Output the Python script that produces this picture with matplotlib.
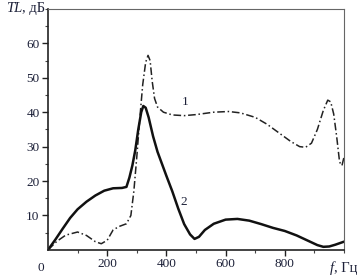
import matplotlib.pyplot as plt
from matplotlib.ticker import FixedLocator

plt.rcParams['font.family'] = ['Liberation Serif', 'DejaVu Serif']

# curve 1 (dash-dot)
f1 = [0, 30, 60, 100, 130, 160, 180, 200, 220, 240, 265, 280, 290, 300, 310,
      320, 330, 338, 345, 352, 360, 370, 390, 420, 460, 500, 560, 610, 650,
      700, 740, 780, 820, 850, 870, 890, 910, 930, 945, 955, 965, 975, 985,
      993, 1000]
tl1 = [0, 2.5, 4.3, 5.2, 4.2, 2.4, 1.8, 2.8, 5.8, 6.8, 7.6, 10, 17, 27, 38,
       48, 54.5, 56.5, 55, 49, 44, 41.5, 40, 39.2, 39, 39.3, 40, 40.2, 39.8,
       38.5, 36.5, 34, 31.5, 30, 29.8, 31, 35, 40.5, 43.5, 43, 39.5, 33, 25.5,
       24.5, 27]

# curve 2 (solid)
f2 = [0, 25, 50, 75, 100, 130, 160, 190, 220, 250, 265, 275, 285, 295, 305,
      315, 322, 330, 340, 355, 370, 385, 400, 420, 440, 460, 480, 495, 510,
      530, 560, 600, 640, 680, 720, 760, 800, 840, 880, 910, 930, 950, 970,
      1000]
tl2 = [0, 3, 6.2, 9.3, 11.8, 14, 15.8, 17.2, 17.9, 18, 18.3, 21, 24.5, 29,
       35, 40, 41.8, 41.3, 38.5, 33, 28.5, 25, 21.5, 17, 12, 7.5, 4.5, 3.2,
       3.8, 5.8, 7.6, 8.8, 9, 8.5, 7.5, 6.4, 5.5, 4.2, 2.6, 1.4, 0.9, 1, 1.5,
       2.4]

xticks = [200, 400, 600, 800]
yticks = [10, 20, 30, 40, 50, 60]
txt = '#1c2038'
fs = 9.5
fc = 10.5

fig = plt.figure(figsize=(3.58, 2.78), dpi=100)
ax = fig.add_axes([0.134, 0.101, 0.827, 0.867])

ax.plot(f1, tl1, color='#222222', lw=1.1, dashes=(5, 1.8, 1, 1.8))
ax.plot(f2, tl2, color='#111111', lw=1.8, solid_capstyle='round')

ax.set_xlim(0, 1000)
ax.set_ylim(0, 70)
ax.xaxis.set_major_locator(FixedLocator(xticks))
ax.yaxis.set_major_locator(FixedLocator(yticks))
ax.xaxis.set_minor_locator(FixedLocator([100, 300, 500, 700, 900, 1000]))
ax.yaxis.set_minor_locator(FixedLocator([5, 15, 25, 35, 45, 55, 65, 70]))
ax.tick_params(which='major', length=4, width=1, colors='#222222',
               labelsize=fs, labelcolor=txt, pad=2)
ax.tick_params(which='minor', length=2.5, width=0.8, colors='#444444')

for s in ['left', 'bottom']:
    ax.spines[s].set_linewidth(1.2)
    ax.spines[s].set_color('#222222')
for s in ['top', 'right']:
    ax.spines[s].set_linewidth(0.8)
    ax.spines[s].set_color('#666666')

# axis captions in place of the last tick labels
t_hz = ax.text(1045, -3.4, ', Гц', ha='right', va='top', fontsize=fc,
               color=txt)
ax.annotate('f', xy=(0, 0), xycoords=t_hz, ha='right', va='bottom',
            fontsize=fc, color=txt, style='italic')
ax.text(-25, -3.6, '0', ha='center', va='top', fontsize=fs, color=txt)
t_db = ax.text(-10, 70, ', дБ', ha='right', va='center', fontsize=fc,
               color=txt)
ax.annotate('TL', xy=(0, 0), xycoords=t_db, ha='right', va='bottom',
            fontsize=fc, color=txt, style='italic')

ax.text(465, 43, '1', ha='center', va='center', fontsize=fs, color=txt)
ax.text(460, 14, '2', ha='center', va='center', fontsize=fs, color=txt)

fig.savefig('out.png', dpi=100)
